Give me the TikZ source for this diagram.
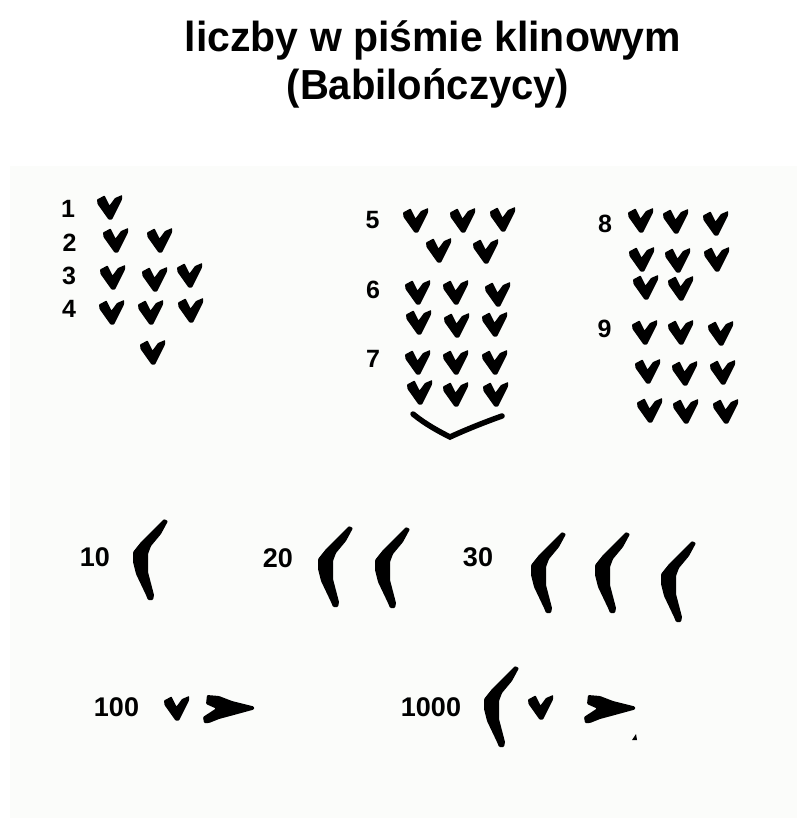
\documentclass[tikz,border=0pt]{standalone}
\usepackage{fontspec}
\usepackage{graphicx}
\setmainfont{Liberation Sans}
\definecolor{panelbg}{RGB}{251,252,250}
\tikzset{
  vwedge/.pic={\fill[black, rounded corners=0.6pt] (0,4.5) -- (7.5,0.5) -- (12.5,10.5) -- (18,3) -- (25,0) -- (25,4.5) -- (15,24.5) -- (11.5,24.5) -- (0.5,9) -- cycle;},
  hook/.pic={\fill[black, rounded corners=1pt] (26,-28) -- (29,-31) -- (33,-29) -- (26,-16) -- (16,-4) -- (13,4) -- (13,22) -- (19,45) -- (18,50) -- (13,50) -- (11,45) -- (1,24) -- (-2,12) -- (-2,2) -- (6,-8) -- (16,-18) -- cycle;},
  hwedge/.pic={\fill[black, rounded corners=1pt] (0,-1) -- (12,0) -- (25,5) -- (47,10.5) -- (47,13.5) -- (25,19.5) -- (12,23) -- (2,27) -- (-3,27) -- (-4,21) -- (9,12.5) -- (-1,8) -- cycle;},
  titletext/.style={font=\fontsize{42bp}{50bp}\selectfont\bfseries, anchor=base, inner sep=0pt},
  numa/.style={font=\fontsize{25bp}{25bp}\selectfont\bfseries, anchor=base, inner sep=0pt},
  numb/.style={font=\fontsize{27bp}{27bp}\selectfont\bfseries, anchor=base, inner sep=0pt},
}
\begin{document}
\begin{tikzpicture}[x=1bp, y=-1bp]
\useasboundingbox (0,0) rectangle (798,818);
\fill[white] (0,0) rectangle (798,818);
\fill[panelbg] (10,166) rectangle (797,818);
% title
\node[titletext] (t1) at (433,52) {\scalebox{0.975}[1]{liczby w piśmie klinowym}};
\node[titletext] (t2) at (428,99) {\scalebox{0.953}[1]{(Babilończycy)}};
% labels 1-9
\node[numa] (n1) at (68,217) {1};
\node[numa] (n2) at (69.5,251) {2};
\node[numa] (n3) at (69,284) {3};
\node[numa] (n4) at (69,317) {4};
\node[numa] (n5) at (372.5,228) {5};
\node[numa] (n6) at (373,298) {6};
\node[numa] (n7) at (373,367) {7};
\node[numa] (n8) at (605,232) {8};
\node[numa] (n9) at (604.5,337) {9};
% wedges 1-4
\foreach \p in {(97,195),(103,228),(147,228),(100,265),(142,267),(177,263),(99,300),(138,300),(178,298),(140,340)}
  \pic at \p {vwedge};
% 5-7
\foreach \p in {(403,208),(450,208),(490,207),(426,238),(473,239),
                (405,280),(443,280),(485,282),(406,310),(444,313),(482,312),
                (405,350),(443,350),(482,350),(407,380),(443,382),(483,382)}
  \pic at \p {vwedge};
\draw[line width=5.5bp, line cap=round] (413,414) .. controls (425,424) and (440,432) .. (450,437) .. controls (465,430) and (485,422) .. (502,416);
% 8-9
\foreach \p in {(628,208),(663,209),(703,211),(629,247),(665,248),(704,247),(633,275),(668,276),
                (632,320),(668,320),(708,321),(635,359),(672,361),(710,360),(637,398),(673,399),(713,399)}
  \pic at \p {vwedge};
% tens
\node[numb] (n10) at (95,566) {10};
\node[numb] (n20) at (278,567) {20};
\node[numb] (n30) at (478,566) {30};
\foreach \p in {(135,550),(320,557),(377,558),(533,563),(597,563),(663,572)}
  \pic at \p {hook};
% hundreds and thousands
\node[numb] (n100) at (116.5,716) {100};
\node[numb] (n1000) at (431,716) {1000};
\pic at (164,696) {vwedge};
\pic at (207,696) {hwedge};
\pic at (486,697) {hook};
\pic at (528,695) {vwedge};
\pic at (588,696) {hwedge};
\fill[black] (632,740) -- (636,734) -- (637,740) -- cycle;
\end{tikzpicture}
\end{document}
